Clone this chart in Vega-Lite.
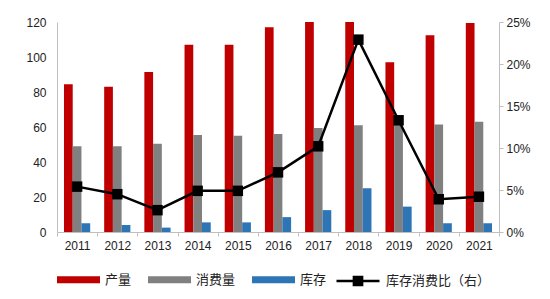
{
  "$schema": "https://vega.github.io/schema/vega-lite/v6.json",
  "width": 442,
  "height": 210,
  "autosize": "none",
  "padding": {"left": 57, "top": 22, "right": 51, "bottom": 67},
  "background": "white",
  "config": {
    "view": {"stroke": null},
    "axis": {"labelFont": "Liberation Sans", "labelFontSize": 12, "labelColor": "#222222", "domainColor": "#bfbfbf", "tickColor": "#bfbfbf", "grid": false, "title": null},
    "legend": {"labelFont": "Noto Sans CJK SC", "labelFontSize": 13, "labelColor": "#222222", "orient": "bottom", "direction": "horizontal", "title": null, "offset": 7}
  },
  "datasets": {
    "bars": [
      {"year": "2011", "series": "产量", "value": 84.5},
      {"year": "2012", "series": "产量", "value": 83},
      {"year": "2013", "series": "产量", "value": 91.5},
      {"year": "2014", "series": "产量", "value": 107},
      {"year": "2015", "series": "产量", "value": 107},
      {"year": "2016", "series": "产量", "value": 117},
      {"year": "2017", "series": "产量", "value": 122},
      {"year": "2018", "series": "产量", "value": 123},
      {"year": "2019", "series": "产量", "value": 97},
      {"year": "2020", "series": "产量", "value": 112.5},
      {"year": "2021", "series": "产量", "value": 119.5},
      {"year": "2011", "series": "消费量", "value": 49},
      {"year": "2012", "series": "消费量", "value": 49},
      {"year": "2013", "series": "消费量", "value": 50.5},
      {"year": "2014", "series": "消费量", "value": 55.5},
      {"year": "2015", "series": "消费量", "value": 55},
      {"year": "2016", "series": "消费量", "value": 56},
      {"year": "2017", "series": "消费量", "value": 59.5},
      {"year": "2018", "series": "消费量", "value": 61},
      {"year": "2019", "series": "消费量", "value": 62},
      {"year": "2020", "series": "消费量", "value": 61.5},
      {"year": "2021", "series": "消费量", "value": 63},
      {"year": "2011", "series": "库存", "value": 5},
      {"year": "2012", "series": "库存", "value": 4},
      {"year": "2013", "series": "库存", "value": 2.5},
      {"year": "2014", "series": "库存", "value": 5.5},
      {"year": "2015", "series": "库存", "value": 5.5},
      {"year": "2016", "series": "库存", "value": 8.5},
      {"year": "2017", "series": "库存", "value": 12.5},
      {"year": "2018", "series": "库存", "value": 25},
      {"year": "2019", "series": "库存", "value": 14.5},
      {"year": "2020", "series": "库存", "value": 5},
      {"year": "2021", "series": "库存", "value": 5}
    ],
    "ratio": [
      {"year": "2011", "s": "库存消费比（右）", "ratio": 0.054},
      {"year": "2012", "s": "库存消费比（右）", "ratio": 0.045},
      {"year": "2013", "s": "库存消费比（右）", "ratio": 0.026},
      {"year": "2014", "s": "库存消费比（右）", "ratio": 0.049},
      {"year": "2015", "s": "库存消费比（右）", "ratio": 0.049},
      {"year": "2016", "s": "库存消费比（右）", "ratio": 0.071},
      {"year": "2017", "s": "库存消费比（右）", "ratio": 0.102},
      {"year": "2018", "s": "库存消费比（右）", "ratio": 0.229},
      {"year": "2019", "s": "库存消费比（右）", "ratio": 0.133},
      {"year": "2020", "s": "库存消费比（右）", "ratio": 0.039},
      {"year": "2021", "s": "库存消费比（右）", "ratio": 0.042}
    ]
  },
  "layer": [
    {
      "data": {"name": "bars"},
      "mark": {"type": "bar", "clip": true},
      "encoding": {
        "x": {"field": "year", "type": "ordinal", "scale": {"paddingInner": 0, "paddingOuter": 0},
              "axis": {"labelAngle": 0, "tickBand": "extent", "ticks": true, "tickSize": 4, "labelPadding": 4}},
        "xOffset": {"field": "series", "sort": ["产量", "消费量", "库存"], "scale": {"paddingInner": 0, "paddingOuter": 0.8}},
        "y": {"field": "value", "type": "quantitative", "scale": {"domain": [0, 120]},
              "axis": {"values": [0, 20, 40, 60, 80, 100, 120], "ticks": false, "labelPadding": 11}},
        "color": {"field": "series", "type": "nominal", "sort": ["产量", "消费量", "库存"],
                  "scale": {"domain": ["产量", "消费量", "库存"], "range": ["#C00000", "#808080", "#2E75B6"]},
                  "legend": {"symbolType": "M-1,-0.16H1V0.16H-1Z", "symbolSize": 1849, "symbolStrokeWidth": 0, "columnPadding": 16, "labelOffset": 5}}
      }
    },
    {
      "data": {"name": "ratio"},
      "mark": {"type": "line", "strokeWidth": 2.5, "point": {"shape": "square", "size": 110, "filled": true}},
      "encoding": {
        "x": {"field": "year", "type": "ordinal"},
        "y": {"field": "ratio", "type": "quantitative", "scale": {"domain": [0, 0.25]},
              "axis": {"orient": "right", "format": ".0%", "values": [0, 0.05, 0.1, 0.15, 0.2, 0.25], "tickSize": 4, "labelPadding": 3}},
        "color": {"field": "s", "type": "nominal", "scale": {"range": ["#000000"]},
                  "legend": {"symbolType": "M-1,0H1M-0.19,-0.19H0.19V0.19H-0.19Z", "symbolSize": 1849, "symbolStrokeWidth": 2.5, "symbolFillColor": "#000000", "labelOffset": 5}}
      }
    }
  ],
  "resolve": {"scale": {"y": "independent", "color": "independent"}}
}
